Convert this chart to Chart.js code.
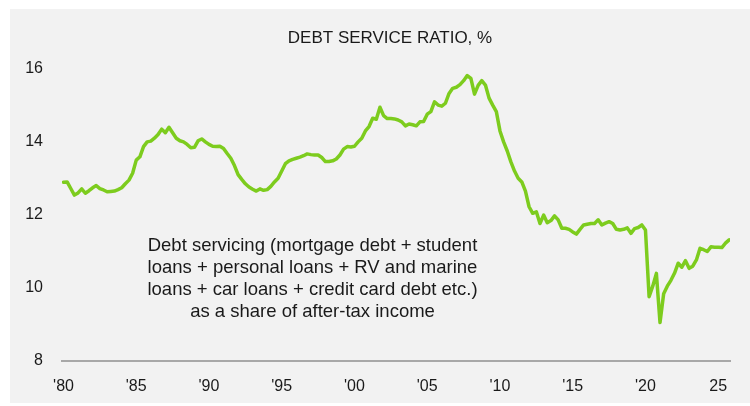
<!DOCTYPE html>
<html>
<head>
<meta charset="utf-8">
<script src="https://cdn.jsdelivr.net/npm/chart.js@4.4.1/dist/chart.umd.min.js"></script>
<style>
  html, body { margin: 0; padding: 0; background: #ffffff; }
  body { width: 750px; height: 406px; position: relative; overflow: hidden; }
  #wrap { position: absolute; left: 10px; top: 9px; width: 740px; height: 394px; background: #f2f2f2; }
  canvas { display: block; }
</style>
</head>
<body>
<div id="wrap"><canvas id="c" width="740" height="394"></canvas></div>
<script>
// ---- Data (quarterly, starting 1980 Q1) ----
const title = "DEBT SERVICE RATIO, %";
const noteLines = [
  "Debt servicing (mortgage debt + student",
  "loans + personal loans + RV and marine",
  "loans + car loans + credit card debt etc.)",
  "as a share of after-tax income"
];
const startYear = 1980;
const debtServiceRatio = [
  12.89, 12.90, 12.72, 12.54, 12.60, 12.71, 12.59, 12.66, 12.74, 12.80,
  12.72, 12.68, 12.63, 12.64, 12.65, 12.69, 12.74, 12.85, 12.95, 13.14,
  13.50, 13.59, 13.87, 14.00, 14.02, 14.10, 14.20, 14.35, 14.25, 14.40,
  14.25, 14.10, 14.03, 14.00, 13.93, 13.84, 13.85, 14.03, 14.08, 14.00,
  13.93, 13.88, 13.87, 13.88, 13.82, 13.68, 13.55, 13.35, 13.10, 12.97,
  12.85, 12.76, 12.70, 12.65, 12.71, 12.67, 12.69, 12.78, 12.90, 13.00,
  13.20, 13.40, 13.48, 13.52, 13.55, 13.58, 13.62, 13.67, 13.65, 13.64,
  13.64, 13.57, 13.46, 13.46, 13.48, 13.53, 13.64, 13.80, 13.87, 13.86,
  13.88, 14.00, 14.10, 14.30, 14.42, 14.65, 14.62, 14.95, 14.72, 14.64,
  14.64, 14.63, 14.60, 14.55, 14.44, 14.49, 14.47, 14.44, 14.55, 14.56,
  14.76, 14.83, 15.10, 15.01, 14.98, 15.06, 15.33, 15.47, 15.50, 15.57,
  15.68, 15.82, 15.74, 15.31, 15.55, 15.68, 15.56, 15.20, 15.01, 14.83,
  14.30, 14.00, 13.75, 13.45, 13.20, 13.00, 12.90, 12.65, 12.22, 12.04,
  12.08, 11.76, 11.99, 11.78, 11.84, 11.97, 11.86, 11.63, 11.63, 11.60,
  11.53, 11.47, 11.60, 11.72, 11.74, 11.76, 11.76, 11.86, 11.72, 11.77,
  11.81, 11.76, 11.60, 11.58, 11.60, 11.64, 11.49, 11.62, 11.65, 11.72,
  11.58,  9.75, 10.04, 10.39,  9.04,  9.83, 10.04, 10.20, 10.40, 10.67,
  10.56, 10.74, 10.53, 10.59, 10.76, 11.08, 11.04, 10.99, 11.12, 11.11,
  11.11, 11.10, 11.22, 11.31
];
const xTickYears = [1980, 1985, 1990, 1995, 2000, 2005, 2010, 2015, 2020, 2025];
const xTickLabels = ["'80", "'85", "'90", "'95", "'00", "'05", "'10", "'15", "'20", "25"];
const yTicks = [8, 10, 12, 14, 16];

// ---- Build the points ----
const points = debtServiceRatio.map((v, i) => ({ x: startYear + i / 4, y: v }));

const FONT = "'Liberation Sans', Arial, sans-serif";
const TEXT = "#1a1a1a";

const textPlugin = {
  id: 'texts',
  afterDraw(chart) {
    const ctx = chart.ctx;
    ctx.save();
    ctx.fillStyle = TEXT;
    ctx.textAlign = 'center';
    ctx.textBaseline = 'middle';
    ctx.font = "17px " + FONT;
    ctx.fillText(title, 380, 29.5);
    ctx.font = "18.5px " + FONT;
    noteLines.forEach((ln, i) => {
      ctx.fillText(ln, 302.5, 236.5 + i * 22);
    });
    ctx.restore();
  }
};

new Chart(document.getElementById('c'), {
  type: 'line',
  data: {
    datasets: [{
      data: points,
      borderColor: '#7dcc1e',
      borderWidth: 3.5,
      pointRadius: 0,
      tension: 0,
      borderJoinStyle: 'round',
      borderCapStyle: 'round',
      fill: false
    }]
  },
  options: {
    responsive: false,
    animation: false,
    layout: { padding: { left: 0, right: 20, top: 60, bottom: 0 } },
    plugins: { legend: { display: false }, tooltip: { enabled: false }, title: { display: false } },
    scales: {
      x: {
        type: 'linear',
        min: 1979.897,
        max: 2025.81,
        afterFit(s) { s.height = 42.5; },
        afterBuildTicks(s) { s.ticks = xTickYears.map(v => ({ value: v })); },
        grid: { display: false, drawTicks: false },
        border: { display: true, color: '#a8a8a8', width: 2 },
        ticks: {
          autoSkip: false,
          maxRotation: 0,
          padding: 16,
          color: TEXT,
          font: { family: FONT, size: 16 },
          callback: (v) => { const k = xTickYears.indexOf(v); return k >= 0 ? xTickLabels[k] : ''; }
        }
      },
      y: {
        min: 8,
        max: 16,
        afterFit(s) { s.width = 52; },
        afterBuildTicks(s) { s.ticks = yTicks.map(v => ({ value: v })); },
        grid: { display: false, drawTicks: false },
        border: { display: false },
        ticks: {
          padding: 19,
          color: TEXT,
          font: { family: FONT, size: 16 }
        }
      }
    }
  },
  plugins: [textPlugin]
});
</script>
</body>
</html>
